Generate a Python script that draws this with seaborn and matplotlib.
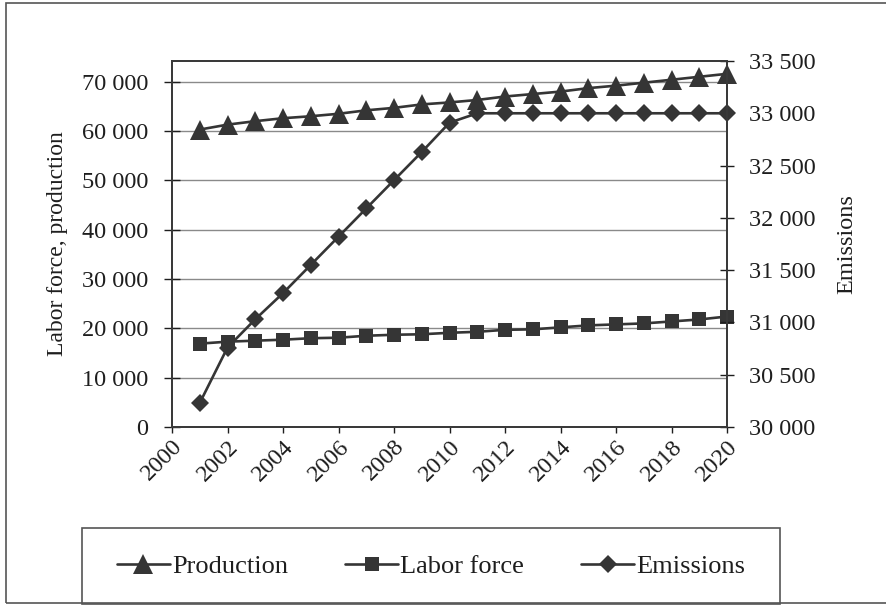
import matplotlib
matplotlib.use("Agg")
import matplotlib.pyplot as plt
import matplotlib.ticker as mticker
from matplotlib.patches import Rectangle
from matplotlib.lines import Line2D
import seaborn as sns
import pandas as pd

years = list(range(2001, 2021))
production = [60300, 61300, 62000, 62600, 63000, 63500, 64200, 64700, 65400, 65800,
              66300, 67000, 67500, 68000, 68700, 69200, 69800, 70400, 71000, 71600]
labor_force = [16900, 17300, 17500, 17700, 18000, 18100, 18500, 18700, 18800, 19100,
               19300, 19700, 19800, 20200, 20600, 20800, 21000, 21400, 21800, 22400]
emissions = [30230, 30760, 31030, 31280, 31550, 31820, 32090, 32360, 32630, 32910,
             33000, 33000, 33000, 33000, 33000, 33000, 33000, 33000, 33000, 33000]
x_ticks = list(range(2000, 2021, 2))
left_ticks = list(range(0, 70001, 10000))
right_ticks = list(range(30000, 33501, 500))
series_names = ["Production", "Labor force", "Emissions"]

df = pd.DataFrame({"year": years, "Production": production,
                   "Labor force": labor_force, "Emissions": emissions})

sns.set_theme(style="white")
plt.rcParams["font.family"] = ["Liberation Serif", "DejaVu Serif"]

W, H = 886, 605
fig = plt.figure(figsize=(W / 100, H / 100), dpi=100)
ax = fig.add_axes([172 / W, 1 - 427 / H, (727 - 172) / W, (427 - 61) / H])
ax2 = ax.twinx()

col = "#353535"
txt = "#1e1e1e"
lw = 1.9
sns.lineplot(data=df, x="year", y="Production", ax=ax, color=col, marker="^",
             markersize=14, linewidth=lw, markeredgewidth=0, legend=False)
sns.lineplot(data=df, x="year", y="Labor force", ax=ax, color=col, marker="s",
             markersize=10.5, linewidth=lw, markeredgewidth=0, legend=False)
sns.lineplot(data=df, x="year", y="Emissions", ax=ax2, color=col, marker="D",
             markersize=9.5, linewidth=lw, markeredgewidth=0, legend=False)
for a in (ax, ax2):
    for ln in a.lines:
        ln.set_clip_on(False)

ax.set_xlim(2000, 2020)
ax.set_ylim(0, 74200)
ax2.set_ylim(30000, 33500)
ax.set_xticks(x_ticks)
ax.set_yticks(left_ticks)
ax2.set_yticks(right_ticks)

fmt = mticker.FuncFormatter(lambda v, p: f"{int(v):,}".replace(",", " "))
ax.yaxis.set_major_formatter(fmt)
ax2.yaxis.set_major_formatter(fmt)

ax.grid(False)
ax2.grid(False)
for t in left_ticks[1:]:
    ax.axhline(t, color="#8a8a8a", linewidth=1.0, zorder=0)

for a in (ax, ax2):
    for s in a.spines.values():
        s.set_color("#3a3a3a")
        s.set_linewidth(1.4)

ax.tick_params(axis="y", direction="inout", length=12, width=1, colors=txt,
               labelsize=17.5, pad=11, left=True)
ax2.tick_params(axis="y", direction="inout", length=10, width=1, colors=txt,
                labelsize=17.5, pad=11, right=True)
ax.tick_params(axis="x", direction="out", length=4.5, width=1, colors=txt,
               labelsize=17.5, pad=2, bottom=True)
for lab in ax.get_xticklabels():
    lab.set_rotation(45)
    lab.set_ha("right")
    lab.set_rotation_mode("anchor")

ax.set_xlabel("")
ax.set_ylabel("Labor force, production", fontsize=17, color=txt)
ax2.set_ylabel("Emissions", fontsize=17.5, color=txt)
ax.yaxis.set_label_coords(-0.187, 0.5)
ax2.yaxis.set_label_coords(1.197, 0.5)

# Outer chart border
fig.add_artist(Rectangle((6 / W, 1 - 603 / H), 1.0, (603 - 3) / H,
                         transform=fig.transFigure, fill=False,
                         edgecolor="#555555", linewidth=1.2))
# Legend box
fig.add_artist(Rectangle((82 / W, 1 - 604 / H), (780 - 82) / W, (604 - 528) / H,
                         transform=fig.transFigure, fill=False,
                         edgecolor="#555555", linewidth=1.2))

handles = [
    Line2D([], [], color=col, marker="^", markersize=14, linewidth=lw, markeredgewidth=0),
    Line2D([], [], color=col, marker="s", markersize=10.5, linewidth=lw, markeredgewidth=0),
    Line2D([], [], color=col, marker="D", markersize=9.5, linewidth=lw, markeredgewidth=0),
]
fig.legend(handles, series_names, loc="center", bbox_to_anchor=(431 / W, 1 - 566 / H),
           ncol=3, frameon=False, fontsize=19, handlelength=2.0, handletextpad=0.08,
           columnspacing=2.17, labelcolor=txt)

fig.savefig("out.png", dpi=100)
